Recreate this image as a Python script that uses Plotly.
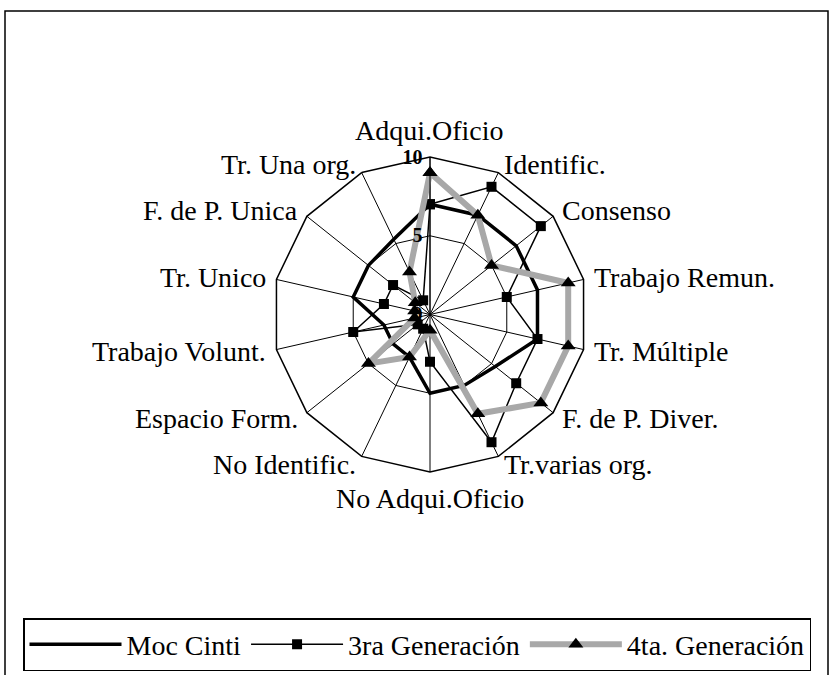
import math
import plotly.graph_objects as go

# Categorías del gráfico radial (en sentido horario desde arriba)
categorias = ['Adqui.Oficio', 'Identific.', 'Consenso', 'Trabajo Remun.',
              'Tr. Múltiple', 'F. de P. Diver.', 'Tr.varias org.',
              'No Adqui.Oficio', 'No Identific.', 'Espacio Form.',
              'Trabajo Volunt.', 'Tr. Unico', 'F. de P. Unica', 'Tr. Una org.']

# Valores de cada serie
moc_cinti = [7, 7, 7, 7, 7, 5.3, 5, 5, 3, 3, 3, 5, 5, 5.3]
tercera_gen = [7, 9, 9, 5, 7, 7, 9, 3, 1, 1, 5, 3, 3, 1]
cuarta_gen = [9, 7, 5, 9, 9, 9, 7, 1, 3, 5, 1, 1, 1.2, 3]

ticks_radiales = [0, 5, 10]

fuente = 'Liberation Serif'
W, H = 836, 675


def cerrar(valores):
    return valores + valores[:1]


theta = cerrar(categorias)

fig = go.Figure()

fig.add_trace(go.Scatterpolar(
    r=cerrar(moc_cinti), theta=theta, mode='lines', name='Moc Cinti',
    line=dict(color='black', width=3.5)))

fig.add_trace(go.Scatterpolar(
    r=cerrar(tercera_gen), theta=theta, mode='lines+markers',
    name='3ra Generación',
    line=dict(color='black', width=1.5),
    marker=dict(symbol='square', size=10, color='black')))

fig.add_trace(go.Scatterpolar(
    r=cerrar(cuarta_gen), theta=theta, mode='lines+markers',
    name='4ta. Generación',
    line=dict(color='#a8a8a8', width=6),
    marker=dict(symbol='triangle-up', size=13, color='black')))

# centro del radar ~ (430, 314) px, radio ~157 px
cx, cy, rad = 430, 314.5, 157.5

# etiquetas de categoría colocadas al estilo Excel (fuera de cada vértice)
anotaciones = []
n = len(categorias)
pad = 9
for i, cat in enumerate(categorias):
    ang = math.radians(i * 360 / n)
    sx, cs = math.sin(ang), math.cos(ang)
    px = cx + (rad + pad) * sx
    py = cy - (rad + pad) * cs
    if abs(sx) < 0.1:
        xa = 'center'
        ya = 'bottom' if cs > 0 else 'top'
    else:
        xa = 'left' if sx > 0 else 'right'
        ya = 'middle'
    anotaciones.append(dict(
        text=cat, x=px / W, y=1 - py / H, xref='paper', yref='paper',
        xanchor=xa, yanchor=ya, showarrow=False,
        font=dict(family=fuente, size=28, color='black')))

fig.update_layout(
    width=W, height=H,
    margin=dict(l=0, r=0, t=0, b=0, autoexpand=False),
    paper_bgcolor='white',
    font=dict(family=fuente, size=28, color='black'),
    polar=dict(
        domain=dict(x=[(cx - rad) / W, (cx + rad) / W],
                    y=[1 - (cy + rad) / H, 1 - (cy - rad) / H]),
        gridshape='linear',
        bgcolor='white',
        angularaxis=dict(
            rotation=90, direction='clockwise',
            linecolor='black', linewidth=1.5,
            gridcolor='black', gridwidth=1,
            showticklabels=False, ticks=''),
        radialaxis=dict(
            range=[0, 10], angle=90, side='counterclockwise',
            tickvals=ticks_radiales,
            ticktext=['<b>%d</b>' % t for t in ticks_radiales],
            tickfont=dict(family=fuente, size=20, color='black'),
            tickangle=90, ticks='',
            showline=True, linecolor='black', linewidth=1,
            gridcolor='black', gridwidth=1)),
    annotations=anotaciones,
    showlegend=True,
    legend=dict(
        orientation='h',
        x=23 / W, y=1 - 618 / H, xanchor='left', yanchor='top',
        bordercolor='black', borderwidth=1.5, bgcolor='white',
        itemwidth=92,
        font=dict(family=fuente, size=28, color='black')),
    shapes=[dict(type='rect', xref='paper', yref='paper',
                 x0=5 / W, x1=828 / W, y0=-0.02, y1=1 - 11 / H,
                 line=dict(color='black', width=1.5))])

fig.write_html('out.html', config={'displayModeBar': False},
               post_script="document.body.style.margin='0px';")
